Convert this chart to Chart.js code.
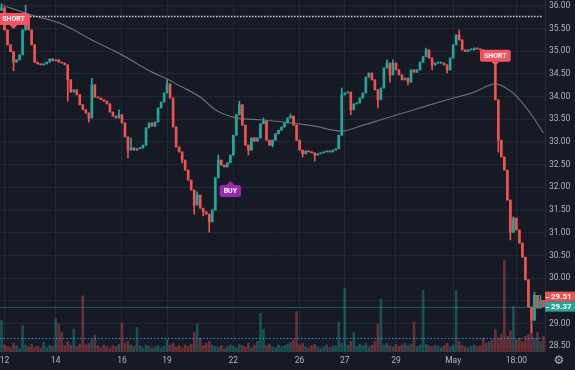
<!DOCTYPE html>
<html>
<head>
<meta charset="utf-8">
<script src="https://cdn.jsdelivr.net/npm/chart.js@4.4.1/dist/chart.umd.min.js"></script>
<style>
  html, body { margin: 0; padding: 0; background: #161a25; }
  #wrap { width: 575px; height: 370px; }
</style>
</head>
<body>
<div id="wrap"><canvas id="chart" width="575" height="370"></canvas></div>
<script>
// Closing prices, one per candle
const closes = [
  35.96,35.47,35.14,34.99,34.76,34.81,34.92,35.47,35.80,35.47,
  35.14,34.76,34.72,34.70,34.72,34.76,34.83,34.79,34.81,34.76,
  34.74,34.70,34.37,34.10,34.15,34.04,33.82,33.71,33.64,33.53,
  34.26,33.99,33.97,33.93,33.90,33.84,33.66,33.57,33.53,33.60,
  33.42,33.11,32.82,32.87,32.82,32.85,32.87,32.93,33.31,33.42,
  33.35,33.44,33.75,33.88,34.08,34.28,33.97,33.33,32.89,32.78,
  32.60,32.38,32.16,31.94,31.61,31.83,31.54,31.46,31.41,31.24,
  31.50,32.21,32.60,32.49,32.45,32.54,32.71,33.15,33.60,33.82,
  33.37,32.93,32.82,33.09,33.02,33.09,33.40,33.46,33.04,32.93,
  33.04,33.18,33.26,33.33,33.42,33.53,33.57,33.37,33.04,32.82,
  32.74,32.80,32.78,32.76,32.71,32.74,32.76,32.78,32.80,32.78,
  32.82,32.85,33.15,34.04,34.08,34.10,33.71,33.84,33.86,33.97,
  34.08,34.43,34.52,34.37,34.15,33.93,34.19,34.63,34.74,34.48,
  34.74,34.59,34.48,34.37,34.41,34.32,34.59,34.54,34.59,34.76,
  34.88,35.03,34.85,34.70,34.74,34.74,34.74,34.70,34.59,34.85,
  35.14,35.36,35.25,35.03,34.99,35.03,35.03,35.07,35.05,35.03,
  35.01,34.99,34.99,34.92,33.93,33.04,32.67,32.38,31.72,31.01,
  31.32,31.06,30.77,30.46,29.96,29.36,29.07,29.62,29.34,29.51,
  29.37
];
const firstOpen = 35.90;

// Wicks that reach past the body (candle index -> price)
const wickHigh = {0:36.05, 8:36.02, 30:34.41, 39:33.71, 43:33.09, 55:34.37, 65:31.90, 72:32.71,
  79:33.90, 87:33.53, 96:33.62, 113:34.19, 128:34.81, 130:34.81, 141:35.07, 152:35.47,
  170:31.35, 177:29.69, 179:29.62};
const wickLow = {4:34.57, 22:33.90, 29:33.44, 42:32.65, 60:32.54, 64:31.41, 67:31.37, 69:31.01,
  82:32.71, 90:32.89, 100:32.67, 104:32.58, 116:33.60, 125:33.75, 129:34.32, 135:34.26,
  143:34.59, 148:34.52, 165:32.78, 169:30.84, 176:28.79};

// Volume per candle
const volumes = [
  90,20,15,12,25,18,10,75,20,14,
  22,12,16,10,28,12,18,15,95,80,
  55,18,30,20,65,15,22,160,20,25,
  35,48,18,12,20,15,10,18,14,22,
  82,25,30,20,16,70,18,12,20,15,
  10,14,18,12,16,35,20,25,14,18,
  12,20,15,22,55,80,40,18,25,30,
  20,15,12,18,10,14,20,16,12,22,
  18,14,25,12,20,30,110,65,18,22,
  14,12,20,15,18,22,28,35,115,20,
  25,14,12,18,22,15,10,14,20,12,
  16,18,85,25,180,20,30,55,15,22,
  18,25,14,20,30,80,150,20,25,18,
  14,22,16,20,25,18,22,85,15,20,
  175,22,18,14,20,16,12,18,25,14,
  20,175,30,18,14,12,16,20,14,18,
  40,25,30,35,65,40,50,260,45,60,
  130,35,40,30,45,50,80,40,55,30,
  45
];

// Moving average read at a few candles (index -> price)
const maPoints = {0:36.02, 10:35.80, 20:35.60, 30:35.25, 40:34.92, 50:34.54, 55:34.39, 60:34.21,
  66:33.99, 71:33.71, 78:33.53, 86:33.49, 96:33.42, 104:33.35, 113:33.24, 120:33.37,
  126:33.49, 137:33.71, 148:33.93, 157:34.10, 164:34.28, 167:34.21, 171:34.01, 176:33.60, 180:33.20};

// Time axis labels (candle index -> text)
const timeLabels = {1:'12', 18:'14', 40:'16', 55:'19', 77:'22', 99:'26', 114:'27', 131:'29', 150:'May', 171:'18:00'};

// Horizontal levels and price tags
const alertLevel = 35.78;
const volumeLevel = 28.68;
const lastPrice = 29.37;
const prevPrice = 29.51;

// Signal markers
const markers = [
  { index: 4,   price: 35.49, text: 'SHORT', color: '#f7525f', side: 'above' },
  { index: 164, price: 34.68, text: 'SHORT', color: '#f7525f', side: 'above' },
  { index: 76,  price: 32.14, text: 'BUY',   color: '#9c27b0', side: 'below' },
];

const UP = '#26a69a';
const DOWN = '#ef5350';
const TEXT = '#b2b5be';
const GRID = 'rgba(42,46,57,0.7)';

const opens = closes.map((c, i) => i === 0 ? firstOpen : closes[i - 1]);
const isUp = i => closes[i] >= opens[i];
const bodies = closes.map((c, i) => [opens[i], c]);
const wicks = closes.map((c, i) => [
  Math.min(opens[i], c, wickLow[i] ?? Infinity),
  Math.max(opens[i], c, wickHigh[i] ?? -Infinity)
]);
const maData = closes.map((c, i) => maPoints[i] ?? null);
const categories = closes.map((c, i) => String(i));

function box(ctx, x, y, w, h, r) {
  ctx.beginPath();
  if (ctx.roundRect) ctx.roundRect(x, y, w, h, r); else ctx.rect(x, y, w, h);
  ctx.fill();
}

const overlay = {
  id: 'overlay',
  beforeDraw(chart) {
    const ctx = chart.ctx;
    ctx.save();
    ctx.fillStyle = '#161a25';
    ctx.fillRect(0, 0, chart.width, chart.height);
    ctx.restore();
  },
  afterDatasetsDraw(chart) {
    const { ctx, chartArea: a, scales: { x, y } } = chart;
    ctx.save();
    ctx.beginPath();
    ctx.rect(a.left, a.top, a.right - a.left, a.bottom - a.top);
    ctx.clip();

    // last price line
    let py = Math.round(y.getPixelForValue(lastPrice)) + 0.5;
    ctx.strokeStyle = 'rgba(38,166,154,0.45)';
    ctx.lineWidth = 1;
    ctx.beginPath(); ctx.moveTo(a.left, py); ctx.lineTo(a.right, py); ctx.stroke();

    // blue dotted line
    py = Math.round(y.getPixelForValue(volumeLevel)) + 0.5;
    ctx.strokeStyle = '#2196f3';
    ctx.setLineDash([1.5, 2]);
    ctx.beginPath(); ctx.moveTo(a.left, py); ctx.lineTo(a.right - 2, py); ctx.stroke();

    // white dotted alert line
    py = Math.round(y.getPixelForValue(alertLevel)) + 0.5;
    ctx.strokeStyle = '#d1d4dc';
    ctx.lineWidth = 1.5;
    ctx.setLineDash([1.5, 1.5]);
    ctx.beginPath(); ctx.moveTo(a.left, py); ctx.lineTo(a.right - 2, py); ctx.stroke();
    ctx.setLineDash([]);

    // markers
    ctx.font = 'bold 7px Roboto, sans-serif';
    ctx.textAlign = 'center';
    ctx.textBaseline = 'middle';
    markers.forEach(m => {
      const mx = x.getPixelForValue(m.index);
      const my = y.getPixelForValue(m.price);
      const w = ctx.measureText(m.text).width + 8;
      const h = 12;
      ctx.fillStyle = m.color;
      ctx.beginPath();
      let by;
      if (m.side === 'above') {
        ctx.moveTo(mx - 4, my - 4); ctx.lineTo(mx + 4, my - 4); ctx.lineTo(mx, my);
        by = my - 4 - h;
      } else {
        ctx.moveTo(mx - 4, my + 4); ctx.lineTo(mx + 4, my + 4); ctx.lineTo(mx, my);
        by = my + 4;
      }
      ctx.closePath(); ctx.fill();
      box(ctx, mx - w / 2, by, w, h, 2);
      ctx.fillStyle = '#ffffff';
      ctx.fillText(m.text, mx, by + h / 2 + 0.5);
    });
    ctx.restore();
  },
  afterDraw(chart) {
    const { ctx, chartArea: a, scales: { y } } = chart;
    ctx.save();
    const tealY = y.getPixelForValue(lastPrice);
    const tags = [
      { v: prevPrice, c: DOWN, cy: tealY - 10 },
      { v: lastPrice, c: UP, cy: tealY },
    ];
    ctx.font = 'bold 8px Roboto, sans-serif';
    ctx.textBaseline = 'middle';
    ctx.textAlign = 'left';
    tags.forEach(t => {
      ctx.fillStyle = t.c;
      ctx.fillRect(a.right, t.cy - 5, chart.width - a.right, 10);
      ctx.fillStyle = '#ffffff';
      ctx.fillRect(a.right + 1, Math.round(t.cy), 3, 1);
      ctx.fillText(t.v.toFixed(2), a.right + 6, t.cy + 0.5);
    });
    // settings gear
    ctx.fillStyle = TEXT;
    ctx.font = '12px "DejaVu Sans"';
    ctx.textAlign = 'center';
    ctx.fillText('\u2699', 559, 361);
    ctx.restore();
  }
};

new Chart(document.getElementById('chart'), {
  type: 'bar',
  data: {
    labels: categories,
    datasets: [
      {
        label: 'Volume', data: volumes, yAxisID: 'yv', order: 4, grouped: false,
        barThickness: 2,
        backgroundColor: ctx => isUp(ctx.dataIndex) ? 'rgba(38,166,154,0.38)' : 'rgba(239,83,80,0.38)',
      },
      {
        type: 'line', label: 'MA', data: maData, yAxisID: 'y', order: 3,
        borderColor: 'rgba(160,163,172,0.6)', borderWidth: 1.2, pointRadius: 0,
        spanGaps: true, cubicInterpolationMode: 'monotone',
      },
      {
        label: 'Wicks', data: wicks, yAxisID: 'y', order: 2, grouped: false,
        barThickness: 1, borderSkipped: false, minBarLength: 1,
        backgroundColor: ctx => isUp(ctx.dataIndex) ? UP : DOWN,
      },
      {
        label: 'Bodies', data: bodies, yAxisID: 'y', order: 1, grouped: false,
        barThickness: 2, borderSkipped: false, minBarLength: 1,
        backgroundColor: ctx => isUp(ctx.dataIndex) ? UP : DOWN,
      },
    ]
  },
  options: {
    responsive: false,
    animation: false,
    devicePixelRatio: 1,
    layout: { padding: 0 },
    plugins: { legend: { display: false }, tooltip: { enabled: false } },
    scales: {
      x: {
        offset: true,
        afterFit: s => { s.height = 18; s.paddingLeft = 0; s.paddingRight = 0; },
        ticks: {
          autoSkip: false, maxRotation: 0, padding: 4, color: TEXT,
          font: { family: 'Roboto', size: 8.5 },
          callback: (v, i) => timeLabels[i] || '',
        },
        grid: {
          offset: false, drawTicks: false,
          color: ctx => timeLabels[ctx.index] ? GRID : 'rgba(0,0,0,0)',
        },
        border: { display: false },
      },
      y: {
        position: 'right',
        min: 28.37, max: 36.13,
        afterFit: s => { s.width = 30; s.paddingTop = 0; s.paddingBottom = 0; },
        ticks: {
          stepSize: 0.5, includeBounds: false, padding: 4, color: TEXT,
          font: { family: 'Roboto', size: 8.5 },
          callback: v => v.toFixed(2),
        },
        grid: { color: GRID, drawTicks: false },
        border: { color: '#2a2e39' },
      },
      yv: {
        display: false, min: 0, max: 1000,
      },
    }
  },
  plugins: [overlay]
});
</script>
</body>
</html>
